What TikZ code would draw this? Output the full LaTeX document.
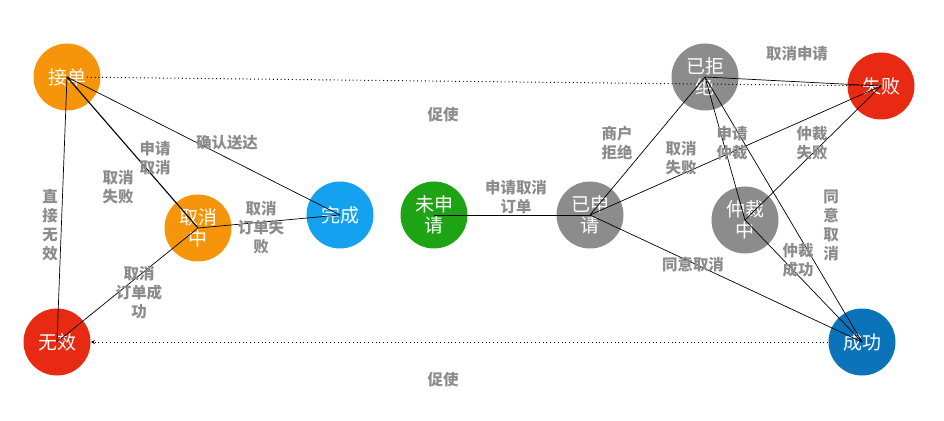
\documentclass[tikz,border=0pt]{standalone}
\usepackage{fontspec}
\newfontfamily\cjk{Noto Sans CJK SC}
\usetikzlibrary{arrows, arrows.meta}
\definecolor{chengse}{RGB}{246,148,10}
\definecolor{hongse}{RGB}{232,42,18}
\definecolor{lanse}{RGB}{20,162,240}
\definecolor{lvse}{RGB}{30,163,20}
\definecolor{huise}{RGB}{140,140,140}
\definecolor{shenlan}{RGB}{10,115,186}
\definecolor{zihui}{RGB}{140,140,140}
\tikzstyle{every link} = [line width=0.5pt]
\tikzstyle{link} = [draw, every link]
\tikzstyle{hint} = [draw, line width=0.7pt, dash pattern=on 0.7pt off 2pt]
\tikzstyle{status} = [circle, minimum size=1.675cm, inner sep=0pt, text=white, align=center,
                      font=\cjk\fontsize{13.5}{15}\selectfont]
\tikzstyle{verb} = [text=zihui, align=center, inner sep=1pt,
                    font=\cjk\bfseries\fontsize{11}{13.5}\selectfont]

\begin{document}
\begin{tikzpicture}
                    \useasboundingbox (0,0) rectangle (23.6,10.5);
                    % zhuangtai
                    \node[status, fill=chengse] (jiedan) at (1.675,8.575) {接单};
                    \node[status, fill=chengse] (quxiaozhong) at (4.95,4.8) {取消\\中};
                    \node[status, fill=hongse] (wuxiao) at (1.425,1.95) {无效};
                    \node[status, fill=lanse] (wancheng) at (8.5,5.125) {完成};
                    \node[status, fill=lvse] (weishenqing) at (10.85,5.125) {未申\\请};
                    \node[status, fill=huise] (yishenqing) at (14.75,5.125) {已申\\请};
                    \node[status, fill=huise] (yijujue) at (17.625,8.575) {已拒\\绝};
                    \node[status, fill=hongse] (shibai) at (22.025,8.35) {失败};
                    \node[status, fill=huise] (zhongcaizhong) at (18.625,5.0) {仲裁\\中};
                    \node[status, fill=shenlan] (chenggong) at (21.55,1.95) {成功};

                    % cuishi
                    \draw[hint, shorten <=0.5cm] (jiedan.center) -- (shibai.center);
                    \draw[hint, -{Stealth[length=3pt, width=3pt]}] (chenggong.west) -- (wuxiao.east);
                    \node[verb] (cuishi1) at (11.075,7.625) {促使};
                    \node[verb] (cuishi2) at (11.075,1.0) {促使};

                    % zuo bian
                    \draw[link] (jiedan.center) -- (wuxiao.center);
                    \draw[link, line width=0.8pt] (jiedan.center) -- (quxiaozhong.center);
                    \draw[link] (jiedan.center) -- (wancheng.center);
                    \draw[link] (quxiaozhong.center) -- (wancheng.center);
                    \draw[link] (quxiaozhong.center) -- (wuxiao.center);
                    \node[verb] (zhijie) at (1.25,4.875) {直\\接\\无\\效};
                    \node[verb] (shenqing) at (3.875,6.55) {申请\\取消};
                    \node[verb] (qxshibai) at (2.95,5.825) {取消\\失败};
                    \node[verb] (queren) at (5.675,6.925) {确认送达};
                    \node[verb] (ddshibai) at (6.525,4.8) {取消\\订单失\\败};
                    \node[verb] (ddchenggong) at (3.475,3.175) {取消\\订单成\\功};

                    % you bian
                    \draw[link] (weishenqing.center) -- (yishenqing.center);
                    \draw[link] (yishenqing.center) -- (yijujue.center);
                    \draw[link] (yishenqing.center) -- (shibai.center);
                    \draw[link] (yishenqing.center) -- (chenggong.center);
                    \draw[link] (yijujue.center) -- (shibai.center);
                    \draw[link] (yijujue.center) -- (zhongcaizhong.center);
                    \draw[link] (yijujue.center) -- (chenggong.center);
                    \draw[link] (zhongcaizhong.center) -- (shibai.center);
                    \draw[link] (zhongcaizhong.center) -- (chenggong.center);
                    \node[verb] (sqdingdan) at (12.9,5.575) {申请取消\\订单};
                    \node[verb] (jujue) at (15.425,6.925) {商户\\拒绝};
                    \node[verb] (qxshenqing) at (19.925,9.15) {取消申请};
                    \node[verb] (qxshibai2) at (17.025,6.55) {取消\\失败};
                    \node[verb] (sqzhongcai) at (18.3,6.925) {申请\\仲裁};
                    \node[verb] (zcshibai) at (20.3,6.925) {仲裁\\失败};
                    \node[verb] (tongyi1) at (20.775,4.875) {同\\意\\取\\消};
                    \node[verb] (zcchenggong) at (19.95,4.0) {仲裁\\成功};
                    \node[verb] (tongyi2) at (17.325,3.875) {同意取消};
                \end{tikzpicture}
\end{document}
